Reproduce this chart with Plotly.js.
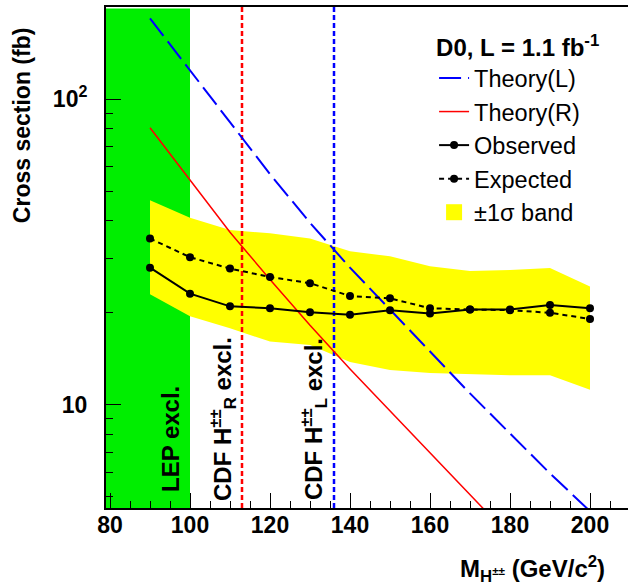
<!DOCTYPE html>
<html><head><meta charset="utf-8">
<script src="https://cdn.plot.ly/plotly-3.0.1.min.js"></script>
<style>html,body{margin:0;padding:0;overflow:hidden;background:#fff}</style>
</head><body><div id="chart" style="width:628px;height:586px"></div>
<script>
// Higgs mass points (GeV/c^2)
const masses = [90, 100, 110, 120, 130, 140, 150, 160, 170, 180, 190, 200];
// cross section limits (fb)
const observed = [28.1, 23.1, 21.0, 20.7, 20.1, 19.7, 20.4, 19.9, 20.5, 20.5, 21.2, 20.7];
const expected = [35.0, 30.4, 27.9, 26.2, 25.0, 22.7, 22.3, 20.7, 20.5, 20.4, 20.0, 19.1];
const bandUpper = [46.7, 40.9, 37.3, 36.4, 35.0, 31.8, 30.6, 28.4, 27.4, 27.6, 28.0, 24.4];
const bandLower = [23.0, 19.5, 17.8, 16.1, 15.7, 13.8, 13.0, 12.7, 12.6, 12.5, 12.5, 11.2];
// theory cross sections (fb)
const theoryL = [183.6, 124.3, 84.1, 56.8, 39.4, 28.1, 20.5, 15.0, 10.9, 8.06, 5.97, 4.49];
const theoryR = [80.6, 54.3, 36.7, 25.7, 18.2, 13.1, 9.54, 6.97, 5.09, 3.71];
// exclusion limits (GeV/c^2)
const lepLimit = 100;
const cdfLimitR = 113;
const cdfLimitL = 136;
// axes
const xMin = 79, xMax = 209.5;
const yMin = 4.6, yMax = 200;
const xTickVals = [80, 100, 120, 140, 160, 180, 200];
const yTickVals = [10, 100];
const yTickText = ['10', '10<sup>2</sup>'];
const yMinorVals = [5, 6, 7, 8, 9, 20, 30, 40, 50, 60, 70, 80, 90, 200];

const FONT = 'Liberation Sans, Arial, Helvetica, sans-serif';

const traces = [
  {x: masses.concat(masses.slice().reverse()),
   y: bandUpper.concat(bandLower.slice().reverse()),
   mode: 'lines', fill: 'toself', fillcolor: '#ffff00', line: {width: 0, color: '#ffff00'},
   showlegend: false, hoverinfo: 'skip'},
  {x: [cdfLimitR, cdfLimitR], y: [yMin, yMax], mode: 'lines',
   line: {color: '#ff0000', width: 2.5, dash: '5px,3px'}, showlegend: false},
  {x: [cdfLimitL, cdfLimitL], y: [yMin, yMax], mode: 'lines',
   line: {color: '#0000ff', width: 2.5, dash: '5px,3px'}, showlegend: false},
  {x: masses, y: theoryL, name: 'Theory(L)', mode: 'lines',
   line: {color: '#0000ff', width: 2, dash: '22px,7px'}},
  {x: masses.slice(0, theoryR.length), y: theoryR, name: 'Theory(R)', mode: 'lines',
   line: {color: '#ff0000', width: 1.5}},
  {x: masses, y: observed, name: 'Observed', mode: 'lines+markers',
   line: {color: '#000000', width: 2}, marker: {size: 8, color: '#000000'}},
  {x: masses, y: expected, name: 'Expected', mode: 'lines+markers',
   line: {color: '#000000', width: 2, dash: '5px,4px'}, marker: {size: 8, color: '#000000'}},
  {x: [null], y: [null], name: '±1σ band', mode: 'markers',
   marker: {symbol: 'square', size: 16, color: '#ffff00'}}
];

const tickFont = {family: FONT, size: 23, weight: 'bold', color: '#000'};

const layout = {
  width: 628, height: 586,
  margin: {l: 106, r: 0, t: 7, b: 78},
  paper_bgcolor: '#ffffff', plot_bgcolor: '#ffffff',
  font: {family: FONT, color: '#000'},
  xaxis: {
    range: [xMin, xMax], tickmode: 'array', tickvals: xTickVals,
    ticks: 'inside', ticklen: 15, tickwidth: 1, tickcolor: '#000',
    showline: true, linewidth: 2, linecolor: '#000', mirror: true,
    showgrid: false, zeroline: false, tickfont: tickFont, ticklabelstandoff: -5,
    minor: {dtick: 5, tick0: 0, ticks: 'inside', ticklen: 7, tickwidth: 1, tickcolor: '#000', showgrid: false}
  },
  yaxis: {
    type: 'log', range: [Math.log10(yMin), Math.log10(yMax)],
    tickmode: 'array', tickvals: yTickVals, ticktext: yTickText,
    ticks: 'inside', ticklen: 15, tickwidth: 1, tickcolor: '#000',
    showline: true, linewidth: 2, linecolor: '#000', mirror: false,
    showgrid: false, zeroline: false, tickfont: tickFont, ticklabelstandoff: 12,
    minor: {tickmode: 'array', tickvals: yMinorVals, ticks: 'inside', ticklen: 7, tickwidth: 1, tickcolor: '#000', showgrid: false}
  },
  showlegend: true,
  legend: {
    x: 0.6285, xanchor: 'left', y: 0.964, yanchor: 'top',
    bgcolor: 'rgba(0,0,0,0)', borderwidth: 0,
    font: {family: FONT, size: 23.5, color: '#000'},
    title: {text: 'D0, L = 1.1 fb<sup>-1</sup>', font: {family: FONT, size: 24, weight: 'bold', color: '#000'}},
    tracegroupgap: 0, itemwidth: 30
  },
  shapes: [
    {type: 'rect', xref: 'x', yref: 'paper', x0: xMin, x1: lepLimit, y0: 0, y1: 0.997,
     fillcolor: '#00ee00', line: {width: 0}, layer: 'below'}
  ],
  annotations: [
    {text: 'Cross section (fb)', xref: 'paper', yref: 'paper', x: -0.162, y: 0.765,
     textangle: -90, showarrow: false, xanchor: 'center', yanchor: 'middle',
     font: {family: FONT, size: 23, weight: 'bold', color: '#000'}},
    {text: 'M<sub>H<sup>±±</sup></sub> (GeV/c<sup>2</sup>)', xref: 'paper', yref: 'paper', x: 0.9598, y: -0.122,
     showarrow: false, xanchor: 'right', yanchor: 'middle',
     font: {family: FONT, size: 24, weight: 'bold', color: '#000'}},
    {text: 'LEP excl.', xref: 'paper', yref: 'paper', x: 0.1226, y: 0.1377,
     textangle: -90, showarrow: false, xanchor: 'center', yanchor: 'middle',
     font: {family: FONT, size: 24, weight: 'bold', color: '#000'}},
    {text: 'CDF H<sup>±±</sup><sub>R</sub> excl.', xref: 'paper', yref: 'paper', x: 0.2241, y: 0.1776,
     textangle: -90, showarrow: false, xanchor: 'center', yanchor: 'middle',
     font: {family: FONT, size: 24, weight: 'bold', color: '#000'}},
    {text: 'CDF H<sup>±±</sup><sub>L</sub> excl.', xref: 'paper', yref: 'paper', x: 0.3985, y: 0.1776,
     textangle: -90, showarrow: false, xanchor: 'center', yanchor: 'middle',
     font: {family: FONT, size: 24, weight: 'bold', color: '#000'}}
  ]
};

Plotly.newPlot('chart', traces, layout, {displayModeBar: false, staticPlot: true});
</script>
</body></html>
